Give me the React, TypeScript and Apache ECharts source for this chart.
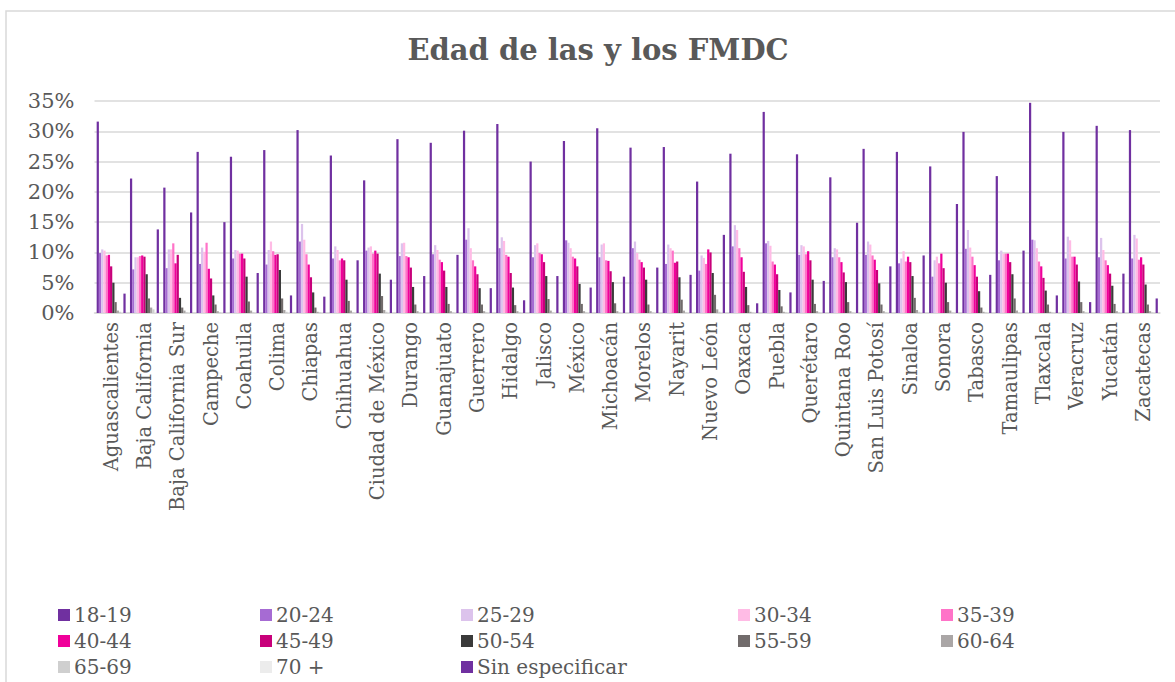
import React, { useEffect, useRef } from "react";
import * as echarts from "echarts";

const states = [
  "Aguascalientes", "Baja California", "Baja California Sur", "Campeche", "Coahuila", "Colima",
  "Chiapas", "Chihuahua", "Ciudad de México", "Durango", "Guanajuato", "Guerrero", "Hidalgo",
  "Jalisco", "México", "Michoacán", "Morelos", "Nayarit", "Nuevo León", "Oaxaca", "Puebla",
  "Querétaro", "Quintana Roo", "San Luis Potosí", "Sinaloa", "Sonora", "Tabasco", "Tamaulipas",
  "Tlaxcala", "Veracruz", "Yucatán", "Zacatecas",
];

const s18_19 = [31.6, 22.2, 20.7, 26.6, 25.8, 26.9, 30.2, 26.0, 21.9, 28.7, 28.1, 30.1, 31.2, 25.0, 28.4, 30.5, 27.3, 27.4, 21.7, 26.3, 33.2, 26.2, 22.4, 27.1, 26.6, 24.2, 29.9, 22.6, 34.7, 29.9, 30.9, 30.2];
const s20_24 = [9.9, 7.2, 7.4, 8.1, 9.0, 8.0, 11.8, 9.0, 10.3, 9.4, 9.7, 12.1, 10.7, 9.2, 12.0, 9.2, 10.7, 8.1, 7.0, 11.0, 11.5, 9.6, 9.2, 9.6, 8.2, 6.0, 10.6, 8.7, 12.1, 9.0, 9.2, 9.0];
const s25_29 = [10.5, 9.2, 10.5, 10.8, 10.4, 10.4, 14.7, 11.0, 10.8, 11.5, 11.2, 14.0, 12.5, 11.2, 11.6, 11.3, 11.8, 11.3, 9.5, 14.5, 11.9, 11.2, 10.7, 11.8, 9.0, 8.7, 13.7, 10.3, 12.0, 12.6, 12.4, 12.9];
const s30_34 = [10.3, 9.2, 10.5, 10.1, 10.3, 11.8, 12.1, 10.4, 11.0, 11.6, 10.4, 10.7, 11.9, 11.5, 10.7, 11.5, 9.9, 10.7, 9.1, 13.7, 11.1, 11.0, 10.5, 11.3, 10.2, 9.3, 10.8, 9.8, 10.7, 12.0, 10.4, 12.3];
const s35_39 = [9.5, 9.4, 11.5, 11.6, 9.8, 10.2, 9.7, 8.7, 9.8, 9.4, 8.8, 8.7, 9.6, 9.9, 9.3, 8.7, 8.8, 10.3, 8.1, 10.7, 8.5, 9.7, 9.2, 9.5, 8.5, 8.2, 9.3, 9.8, 8.5, 9.3, 8.7, 8.8];
const s40_44 = [9.6, 9.5, 8.2, 7.3, 9.8, 9.6, 8.0, 9.0, 10.3, 9.2, 8.4, 7.7, 9.3, 9.7, 9.0, 8.6, 8.4, 8.3, 10.5, 9.2, 8.0, 10.2, 8.4, 8.8, 9.3, 9.8, 7.9, 9.8, 7.7, 9.3, 7.9, 9.2];
const s45_49 = [7.7, 9.3, 9.6, 5.7, 9.0, 9.7, 5.9, 8.7, 9.8, 7.5, 7.0, 6.4, 6.6, 8.4, 7.7, 6.9, 7.5, 8.5, 10.0, 6.8, 6.4, 8.7, 6.7, 7.1, 8.4, 7.4, 6.0, 8.4, 5.8, 8.0, 6.5, 8.0];
const s50_54 = [5.0, 6.4, 2.5, 2.9, 6.0, 7.1, 3.4, 5.5, 6.5, 4.3, 4.3, 4.1, 4.2, 6.1, 4.8, 5.1, 5.5, 5.9, 6.6, 4.3, 3.8, 5.5, 5.1, 4.9, 6.1, 5.0, 3.6, 6.4, 3.7, 5.2, 4.5, 4.7];
const s55_59 = [1.8, 2.4, 0.9, 1.4, 1.9, 2.4, 0.9, 2.0, 2.8, 1.4, 1.5, 1.4, 1.3, 2.3, 1.5, 1.6, 1.4, 2.2, 3.0, 1.3, 1.1, 1.5, 1.8, 1.4, 2.5, 1.8, 0.9, 2.4, 1.4, 1.8, 1.5, 1.4];
const s60_64 = [0.4, 0.9, 0.4, 0.3, 0.4, 0.5, 0.2, 0.4, 0.5, 0.3, 0.3, 0.3, 0.3, 0.4, 0.3, 0.3, 0.3, 0.4, 0.6, 0.2, 0.2, 0.3, 0.3, 0.3, 0.5, 0.4, 0.2, 0.4, 0.2, 0.3, 0.3, 0.3];
const s65_69 = [0.2, 0.6, 0.1, 0.1, 0.1, 0.2, 0.1, 0.1, 0.2, 0.1, 0.1, 0.1, 0.1, 0.1, 0.1, 0.1, 0.1, 0.1, 0.2, 0.1, 0.1, 0.1, 0.1, 0.1, 0.2, 0.1, 0.1, 0.1, 0.1, 0.1, 0.1, 0.1];
const s70 = [0.1, 0.2, 0.05, 0.05, 0.05, 0.1, 0.05, 0.05, 0.1, 0.05, 0.05, 0.05, 0.05, 0.05, 0.05, 0.05, 0.05, 0.05, 0.1, 0.05, 0.05, 0.05, 0.05, 0.05, 0.1, 0.05, 0.05, 0.05, 0.05, 0.05, 0.05, 0.05];
const sSinEsp = [3.2, 13.8, 16.6, 15.0, 6.6, 2.9, 2.7, 8.7, 5.5, 6.1, 9.6, 4.1, 2.1, 6.1, 4.2, 6.0, 7.5, 6.3, 12.9, 1.6, 3.4, 5.3, 14.9, 7.7, 9.5, 18.0, 6.3, 10.3, 2.9, 1.8, 6.5, 2.4];

const seriesNames = ["18-19", "20-24", "25-29", "30-34", "35-39", "40-44", "45-49", "50-54", "55-59", "60-64", "65-69", "70 +", "Sin especificar"];
const seriesData = [s18_19, s20_24, s25_29, s30_34, s35_39, s40_44, s45_49, s50_54, s55_59, s60_64, s65_69, s70, sSinEsp];
const colors = ["#7030a0", "#a66bd3", "#dcc3ec", "#ffbbe5", "#ff73c8", "#f0009a", "#c8007a", "#3a3a3a", "#716b6b", "#aaa6a6", "#cfcfcf", "#ececec", "#7030a0"];

const yTicks = { min: 0, max: 35, interval: 5 };

const legendCols = [58, 260, 461, 738, 941];
const legendRows = [605, 631, 657];

const FONT = "'DejaVu Serif', serif";
const TEXT = "#595959";

export default function App() {
  const ref = useRef<HTMLDivElement>(null);
  useEffect(() => {
    if (!ref.current) return;
    const chart = echarts.init(ref.current, null, { renderer: "svg" });
    const legends = seriesNames.map((name, i) => ({
      data: [name],
      left: legendCols[i % 5],
      top: legendRows[Math.floor(i / 5)],
      padding: 0,
      icon: "rect",
      itemWidth: 12,
      itemHeight: 12,
      itemGap: 0,
      textStyle: { fontFamily: FONT, fontSize: 20, color: TEXT, padding: [0, 0, 0, -1] },
    }));
    chart.setOption({
      animation: false,
      color: colors,
      graphic: [
        {
          type: "rect",
          shape: { x: 6, y: 11, width: 1200, height: 700 },
          style: { fill: "none", stroke: "#d9d9d9", lineWidth: 1.5 },
          silent: true,
        },
        {
          type: "text",
          x: 598,
          y: 50,
          style: {
            text: "Edad de las y los FMDC",
            fontFamily: FONT,
            fontWeight: "bold",
            fontSize: 29,
            fill: TEXT,
            textAlign: "center",
            textVerticalAlign: "middle",
          },
        },
      ],
      legend: legends,
      grid: { left: 94.5, right: 15, top: 101, bottom: 369, containLabel: false },
      xAxis: {
        type: "category",
        data: states,
        axisLine: { show: true, lineStyle: { color: "#d9d9d9", width: 1.5 } },
        axisTick: { show: false },
        axisLabel: {
          rotate: 90,
          interval: 0,
          margin: 9,
          fontFamily: FONT,
          fontSize: 19.5,
          color: TEXT,
        },
      },
      yAxis: {
        type: "value",
        min: yTicks.min,
        max: yTicks.max,
        interval: yTicks.interval,
        axisLine: { show: false },
        axisTick: { show: false },
        splitLine: { lineStyle: { color: "#d9d9d9", width: 1.5 } },
        axisLabel: {
          formatter: "{value}%",
          fontFamily: FONT,
          fontSize: 21,
          color: TEXT,
          margin: 20,
        },
      },
      series: seriesNames.map((name, i) => ({
        name,
        type: "bar",
        data: seriesData[i],
        barGap: "0%",
        barCategoryGap: "13%",
        itemStyle: { color: colors[i] },
      })),
    });
    return () => chart.dispose();
  }, []);
  return (
    <div
      ref={ref}
      style={{ position: "absolute", left: 0, top: 0, width: 1175, height: 682, background: "#fff" }}
    />
  );
}
